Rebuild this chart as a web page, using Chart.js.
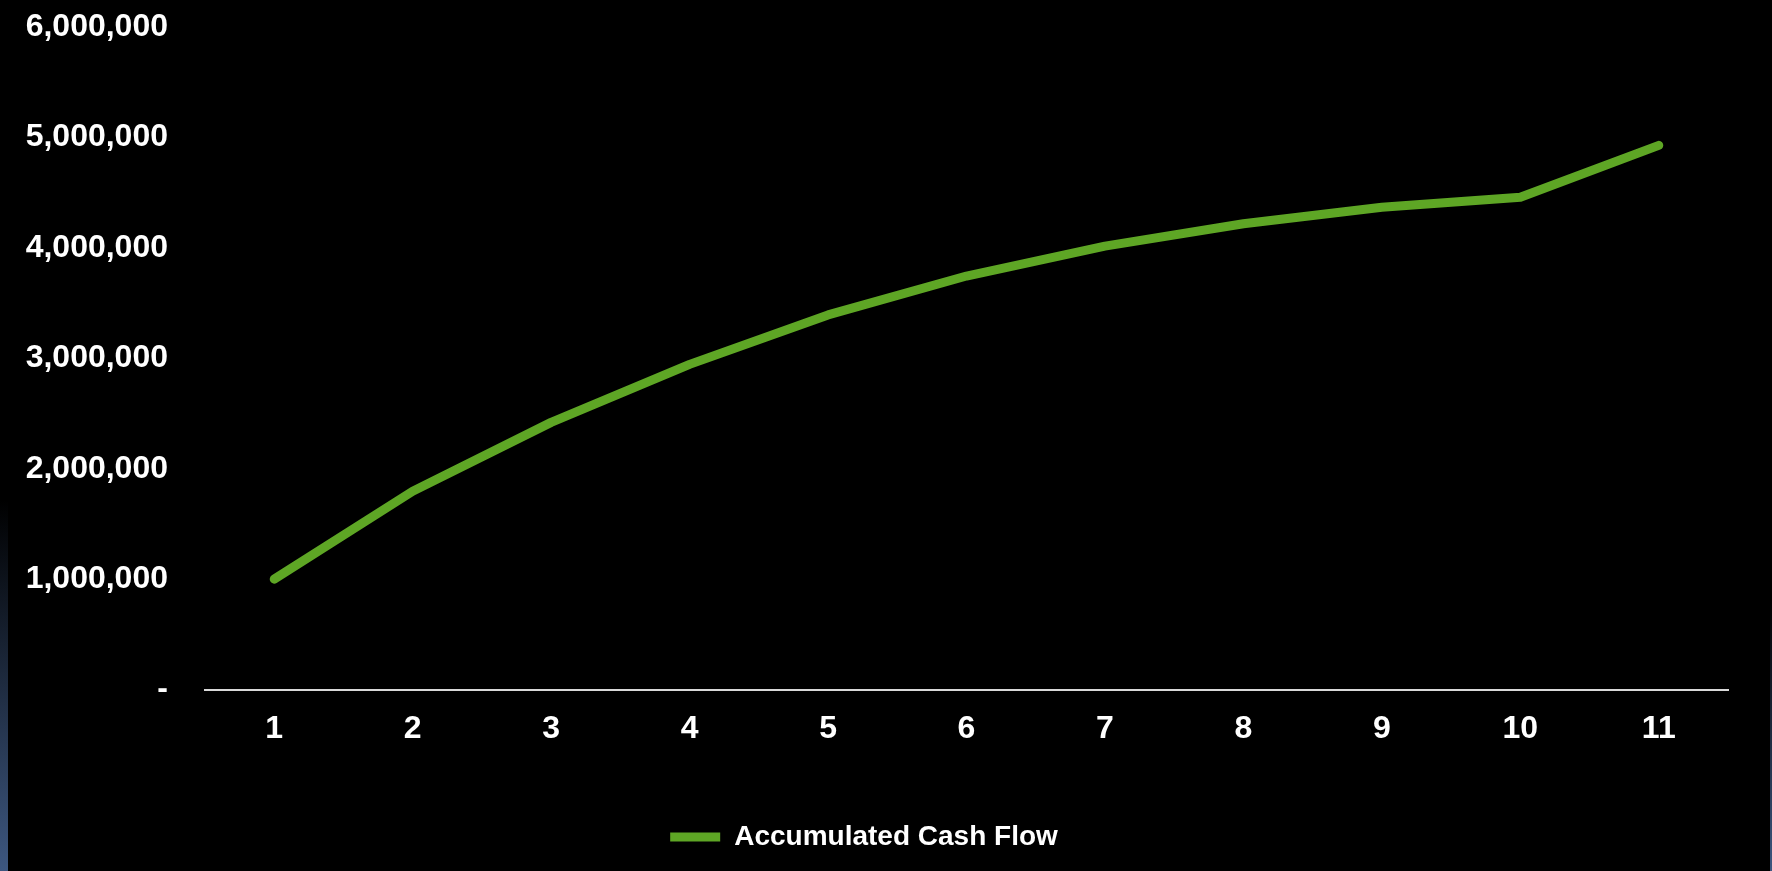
<!DOCTYPE html>
<html>
<head>
<meta charset="utf-8">
<script src="https://cdn.jsdelivr.net/npm/chart.js@4/dist/chart.umd.min.js"></script>
<style>
  html, body { margin: 0; padding: 0; background: #000; overflow: hidden; }
  #wrap { position: relative; width: 1772px; height: 871px; }
  .edge { position: absolute; bottom: 0; background: linear-gradient(to bottom, rgba(0,0,0,0), #3d5780); }
  #edgeL { left: 0; width: 8px; top: 500px; }
  #edgeR { right: 0; width: 2px; top: 600px; }
  canvas { position: absolute; left: 0; top: 0; }
</style>
</head>
<body>
<div id="wrap">
  <div class="edge" id="edgeL"></div>
  <div class="edge" id="edgeR"></div>
  <canvas id="cashChart" width="1772" height="871"></canvas>
</div>
<script>
const years = ["1", "2", "3", "4", "5", "6", "7", "8", "9", "10", "11"];
const accumulatedCash = [1000000, 1796000, 2420000, 2945000, 3393000, 3745000, 4016000, 4218000, 4368000, 4459000, 4928000];
const yTicks = [0, 1000000, 2000000, 3000000, 4000000, 5000000, 6000000];

const green = "#5ea625";
const font = { family: "'Liberation Sans', Arial, sans-serif", size: 32, weight: "bold" };
const legendFont = { family: "'Liberation Sans', Arial, sans-serif", size: 28, weight: "bold" };

function fmt(v) {
  return v === 0 ? "-" : v.toLocaleString("en-US");
}

const ctx = document.getElementById("cashChart").getContext("2d");

const cashChart = new Chart(ctx, {
  type: "line",
  data: {
    labels: years,
    datasets: [
      {
        label: "Accumulated Cash Flow",
        data: accumulatedCash,
        borderColor: green,
        backgroundColor: green,
        borderWidth: 9,
        borderCapStyle: "round",
        borderJoinStyle: "round",
        pointRadius: 0,
        tension: 0,
      },
    ],
  },
  options: {
    responsive: false,
    animation: false,
    layout: { padding: { top: 27, right: 44, bottom: 10, left: 0 } },
    plugins: {
      tooltip: { enabled: false },
      legend: {
        position: "bottom",
        labels: {
          color: "#fff",
          font: legendFont,
          usePointStyle: true,
          pointStyle: "line",
          pointStyleWidth: 50,
          padding: 14,
        },
      },
    },
    scales: {
      x: {
        offset: true,
        grid: { display: false, drawTicks: false },
        border: { display: true, color: "#d9d9d9", width: 2 },
        ticks: { color: "#fff", font: font, padding: 20, maxRotation: 0 },
        afterFit: (scale) => {
          scale.height += 41;
        },
      },
      y: {
        min: 0,
        max: 6000000,
        afterBuildTicks: (scale) => {
          scale.ticks = yTicks.map((v) => ({ value: v }));
        },
        afterFit: (scale) => {
          scale.width = 205;
          scale.paddingTop = 0;
        },
        grid: { display: false, drawTicks: false },
        border: { display: false },
        ticks: { color: "#fff", font: font, padding: 37, callback: fmt },
      },
    },
  },
});
</script>
</body>
</html>
